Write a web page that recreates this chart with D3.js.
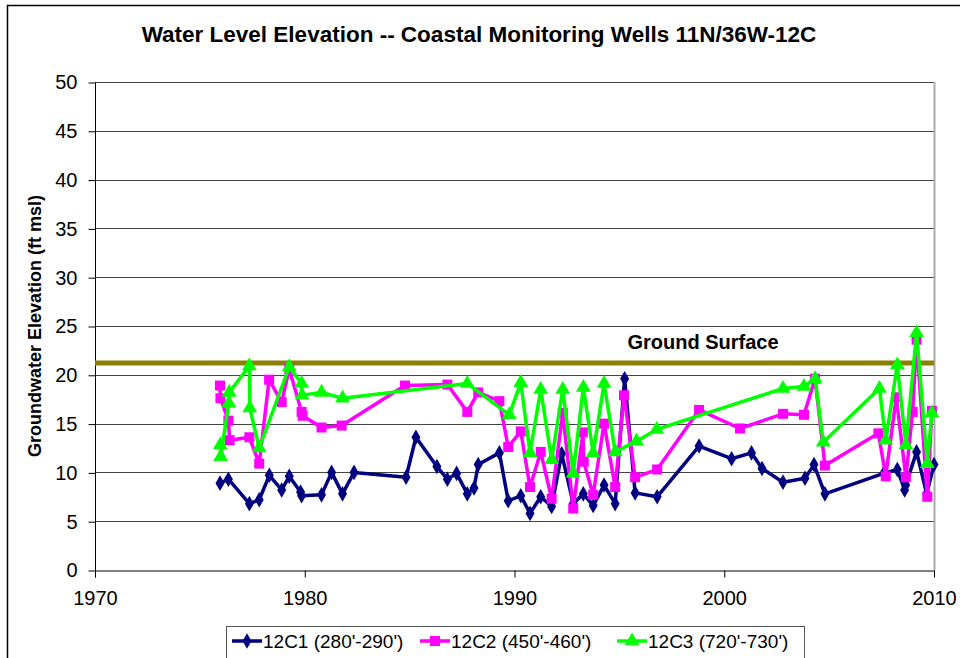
<!DOCTYPE html>
<meta charset="utf-8" />
<style>
  body { margin: 0; background: #fff; }
  svg { font-family: "Liberation Sans", Arial, sans-serif; }
  .grid line { stroke: #444; stroke-width: 1px; }
  .axis text { font-size: 20px; fill: #000; font-family: "Liberation Sans", Arial, sans-serif; }
  .axis path, .axis line { stroke: #000; }
</style>
<body>
<script src="https://d3js.org/d3.v7.min.js"></script>
<script>

// data (decimal year, ft msl)
var c1Years = [1975.96, 1976.36, 1977.36, 1977.83, 1978.31, 1978.9, 1979.26, 1979.8, 1979.85, 1980.8, 1981.28, 1981.8, 1982.35,
  1984.83, 1985.3, 1986.3, 1986.8, 1987.24, 1987.75, 1988.07, 1988.27, 1989.28, 1989.7, 1990.3, 1990.74, 1991.25, 1991.77,
  1992.25, 1992.8, 1993.28, 1993.75, 1994.27, 1994.8, 1995.25, 1995.75, 1996.8, 1998.8, 2000.35, 2001.3, 2001.8,
  2002.8, 2003.85, 2004.28, 2004.8, 2007.6, 2008.25, 2008.6, 2008.65, 2009.17, 2009.65, 2010.0];
var c1Values = [8.9, 9.3, 6.8, 7.2, 9.7, 8.2, 9.6, 8.0, 7.6, 7.7, 10.0, 7.8, 10.0,
  9.5, 13.6, 10.6, 9.3, 9.9, 7.8, 8.4, 10.8, 12.0, 7.1, 7.6, 5.8, 7.5, 6.5,
  11.9, 6.8, 7.8, 6.6, 8.7, 6.8, 19.6, 7.9, 7.5, 12.7, 11.4, 12.0, 10.4,
  9.0, 9.4, 10.8, 7.8, 9.9, 10.3, 8.2, 8.7, 12.1, 7.8, 10.8];

var c2Years = [1975.96, 1975.98, 1976.36, 1976.42, 1977.36, 1977.83, 1978.3, 1978.9, 1979.26, 1979.85, 1979.9, 1980.8, 1981.76,
  1984.78, 1986.8, 1987.75, 1988.27, 1989.28, 1989.7, 1990.3, 1990.74, 1991.25, 1991.77, 1992.3, 1992.8, 1993.26, 1993.3,
  1993.75, 1994.27, 1994.8, 1995.22, 1995.75, 1996.8, 1998.8, 2000.75, 2002.8, 2003.8, 2004.33, 2004.8,
  2007.35, 2007.7, 2008.2, 2008.66, 2008.98, 2009.17, 2009.68, 2009.9];
var c2Values = [18.9, 17.6, 15.3, 13.3, 13.6, 10.9, 19.5, 17.2, 20.6, 16.2, 15.8, 14.6, 14.8,
  18.9, 19.0, 16.2, 18.2, 17.3, 12.6, 14.2, 8.5, 12.1, 7.3, 16.1, 6.3, 14.1, 11.1,
  7.7, 15.0, 8.5, 17.9, 9.5, 10.3, 16.4, 14.5, 16.0, 15.9, 19.6, 10.7,
  14.0, 9.6, 17.7, 9.5, 16.2, 23.6, 7.5, 16.3];

var c3Years = [1975.97, 1975.99, 1976.38, 1976.4, 1977.36, 1977.38, 1977.83, 1979.26, 1979.85, 1979.87, 1980.8, 1981.8,
  1987.75, 1989.75, 1990.3, 1990.74, 1991.25, 1991.77, 1992.3, 1992.8, 1993.28, 1993.75, 1994.27, 1994.8,
  1995.82, 1996.78, 2002.8, 2003.8, 2004.33, 2004.72, 2007.4, 2007.7, 2008.25, 2008.66, 2009.17, 2009.68, 2009.9];
var c3Values = [12.8, 11.6, 17.1, 18.2, 20.9, 16.6, 12.5, 20.8, 19.1, 17.9, 18.2, 17.6,
  19.1, 15.9, 19.2, 12.0, 18.5, 11.3, 18.5, 9.9, 18.7, 12.0, 19.1, 12.1,
  13.2, 14.4, 18.6, 18.8, 19.6, 13.1, 18.6, 13.3, 21.0, 12.8, 24.3, 10.9, 16.1];

var seriesNames = ["12C1 (280'-290')", "12C2 (450'-460')", "12C3 (720'-730')"];
var seriesColors = ["#000080", "#ff00ff", "#00ff00"];
var groundSurface = 21.2;
var yTicks = [0, 5, 10, 15, 20, 25, 30, 35, 40, 45, 50];
var xTicks = [1970, 1980, 1990, 2000, 2010];

function pairs(xs, ys) {
  return xs.map(function(x, i) { return {year: x, value: ys[i]}; });
}
var series = [pairs(c1Years, c1Values), pairs(c2Years, c2Values), pairs(c3Years, c3Values)];
var symbols = [d3.symbolDiamond, d3.symbolSquare, d3.symbolTriangle];
var symbolSizes = [70, 100, 95];

var W = 960, H = 658;
var plotLeft = 95, plotRight = 934, plotTop = 82, plotBottom = 570;

var svg = d3.select("body").append("svg")
    .attr("width", W)
    .attr("height", H);

// outer chart border
svg.append("rect")
    .attr("x", 7.5).attr("y", 5.5)
    .attr("width", 1000).attr("height", 1000)
    .attr("fill", "#fff")
    .attr("stroke", "#000")
    .attr("stroke-width", 1.5);

var x = d3.scaleLinear().domain([1970, 2010]).range([plotLeft, plotRight]);
var y = d3.scaleLinear().domain([0, 50]).range([plotBottom, plotTop]);

// gridlines
svg.append("g").attr("class", "grid")
  .selectAll("line")
  .data(yTicks.filter(function(d) { return d > 0; }))
  .enter().append("line")
    .attr("x1", plotLeft).attr("x2", plotRight)
    .attr("y1", function(d) { return Math.round(y(d)) + 0.5; })
    .attr("y2", function(d) { return Math.round(y(d)) + 0.5; });

// right plot border
svg.append("line")
    .attr("x1", plotRight + 0.5).attr("x2", plotRight + 0.5)
    .attr("y1", plotTop).attr("y2", plotBottom)
    .attr("stroke", "#aaa")
    .attr("stroke-width", 2);

// Y axis
var yAxis = svg.append("g")
    .attr("class", "axis")
    .attr("transform", "translate(" + (plotLeft + 0.5) + ",0.5)")
    .call(d3.axisLeft(y).tickValues(yTicks).tickSize(7).tickPadding(11).tickSizeOuter(0));
yAxis.select(".domain").attr("d", "M0," + plotTop + "V" + (plotBottom + 7));

// X axis
var xAxis = svg.append("g")
    .attr("class", "axis")
    .attr("transform", "translate(0," + (Math.round(plotBottom) + 0.5) + ")")
    .call(d3.axisBottom(x).tickValues(xTicks).tickFormat(d3.format("d")).tickSize(7).tickPadding(13).tickSizeOuter(0));
xAxis.select(".domain").attr("stroke", "#444");

// ground surface
svg.append("line")
    .attr("x1", plotLeft).attr("x2", plotRight)
    .attr("y1", y(groundSurface)).attr("y2", y(groundSurface))
    .attr("stroke", "#8b8000")
    .attr("stroke-width", 5);

svg.append("text")
    .attr("x", 703)
    .attr("y", 349)
    .attr("text-anchor", "middle")
    .style("font-size", "20px")
    .style("font-weight", "bold")
    .text("Ground Surface");

// series lines and markers
var line = d3.line()
    .x(function(d) { return x(d.year); })
    .y(function(d) { return y(d.value); });

series.forEach(function(data, i) {
  svg.append("path")
      .datum(data)
      .attr("fill", "none")
      .attr("stroke", seriesColors[i])
      .attr("stroke-width", 3.5)
      .attr("stroke-linejoin", "round")
      .attr("d", line);

  svg.append("g")
    .selectAll("path")
    .data(data)
    .enter().append("path")
      .attr("d", d3.symbol().type(symbols[i]).size(symbolSizes[i]))
      .attr("transform", function(d) { return "translate(" + x(d.year) + "," + y(d.value) + ")"; })
      .attr("fill", seriesColors[i]);
});

// title
svg.append("text")
    .attr("x", 479)
    .attr("y", 42)
    .attr("text-anchor", "middle")
    .style("font-size", "22.5px")
    .style("font-weight", "bold")
    .text("Water Level Elevation -- Coastal Monitoring Wells 11N/36W-12C");

// y axis title
svg.append("text")
    .attr("transform", "translate(41," + ((plotTop + plotBottom) / 2) + ")rotate(-90)")
    .attr("text-anchor", "middle")
    .style("font-size", "18px")
    .style("font-weight", "bold")
    .text("Groundwater Elevation (ft msl)");

// legend
svg.append("rect")
    .attr("x", 226.5).attr("y", 626.5)
    .attr("width", 578).attr("height", 60)
    .attr("fill", "#fff")
    .attr("stroke", "#555")
    .attr("stroke-width", 1);

var legendX = [232, 420, 617];
series.forEach(function(data, i) {
  var g = svg.append("g").attr("transform", "translate(" + legendX[i] + ",641)");
  g.append("line")
      .attr("x1", 0).attr("x2", 30)
      .attr("stroke", seriesColors[i])
      .attr("stroke-width", 3.5);
  g.append("path")
      .attr("d", d3.symbol().type(symbols[i]).size(symbolSizes[i]))
      .attr("transform", "translate(15,0)")
      .attr("fill", seriesColors[i]);
  g.append("text")
      .attr("x", 31)
      .attr("y", 7)
      .style("font-size", "19px")
      .text(seriesNames[i]);
});

</script>
</body>
